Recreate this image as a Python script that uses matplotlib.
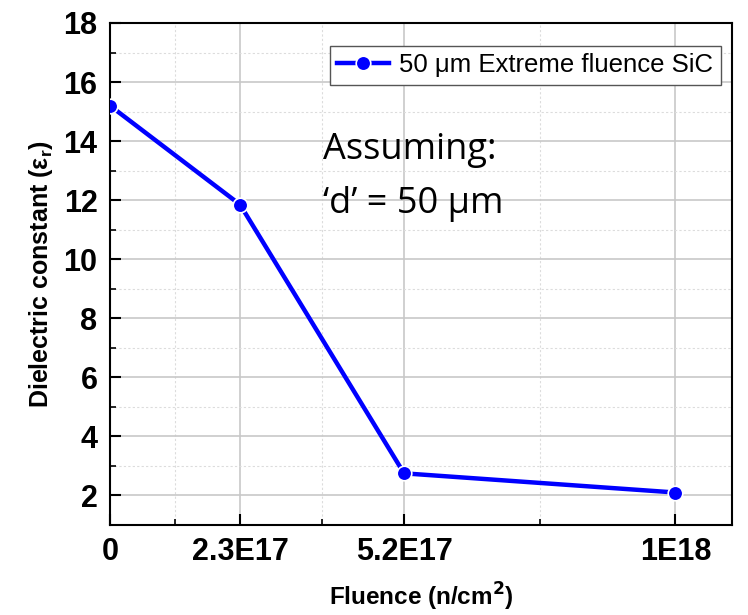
import matplotlib
matplotlib.use("Agg")
import matplotlib.pyplot as plt
from matplotlib.ticker import FixedLocator, FixedFormatter, MultipleLocator

fluence = [0.0, 2.3e17, 5.2e17, 1.0e18]
dielectric = [15.2, 11.85, 2.75, 2.1]
xtick_vals = [0.0, 2.3e17, 5.2e17, 1.0e18]
xtick_labels = ["0", "2.3E17", "5.2E17", "1E18"]
xminor_vals = [1.15e17, 3.75e17, 7.6e17]
series_label = "50 μm Extreme fluence SiC"

fig = plt.figure(figsize=(7.48, 6.15), dpi=100)
ax = fig.add_axes([110/748, 1 - 525/615, (732-110)/748, (525-23)/615])

ax.plot(fluence, dielectric, color="#0000ff", lw=3.2, marker="o", ms=10.5,
        mfc="#0000ff", mec="white", mew=1.2, label=series_label, zorder=5)

ax.set_xlim(0, 1.1e18)
ax.set_ylim(1, 18)
ax.xaxis.set_major_locator(FixedLocator(xtick_vals))
ax.xaxis.set_major_formatter(FixedFormatter(xtick_labels))
ax.xaxis.set_minor_locator(FixedLocator(xminor_vals))
ax.yaxis.set_major_locator(MultipleLocator(2))
ax.yaxis.set_minor_locator(MultipleLocator(1))
ax.set_yticks(range(2, 19, 2))

ax.grid(which="major", color="#c8c8c8", lw=1.2, ls="-")
ax.grid(which="minor", color="#dcdcdc", lw=0.8, ls=(0, (2, 2)))
ax.set_axisbelow(True)

ax.tick_params(which="major", direction="in", length=8, width=1.5, labelsize=22,
               top=False, right=False, pad=9)
ax.tick_params(which="minor", direction="in", length=4, width=1.2,
               top=False, right=False)
for lab in ax.get_xticklabels() + ax.get_yticklabels():
    lab.set_fontweight("bold")
    lab.set_family("Liberation Sans")
for s in ax.spines.values():
    s.set_linewidth(1.5)

ax.set_xlabel("Fluence (n/cm$^\\mathbf{2}$)", fontsize=17.5, fontweight="bold",
              family="Liberation Sans")
ax.xaxis.set_label_coords(0.5, -(581 - 525) / 502)
ax.set_ylabel("Dielectric constant (ε$_\\mathregular{r}$)", fontsize=18,
              fontweight="bold", family="Liberation Sans", labelpad=6)

leg = ax.legend(loc="upper right", bbox_to_anchor=(0.99, 0.965),
                prop={"family": "Liberation Sans", "size": 18.5},
                fancybox=False, edgecolor="#555555", framealpha=1,
                handlelength=2.0, borderpad=0.3, handletextpad=0.4,
                borderaxespad=0.2)
leg.get_frame().set_linewidth(1.0)

fig.text(323/748, 1 - 159/615, "Assuming:", fontsize=26, family="Open Sans",
         va="baseline", ha="left")
fig.text(323/748, 1 - 213/615, "‘d’ = 50 μm", fontsize=26, family="Open Sans",
         va="baseline", ha="left")

fig.savefig("out.png", dpi=100)
